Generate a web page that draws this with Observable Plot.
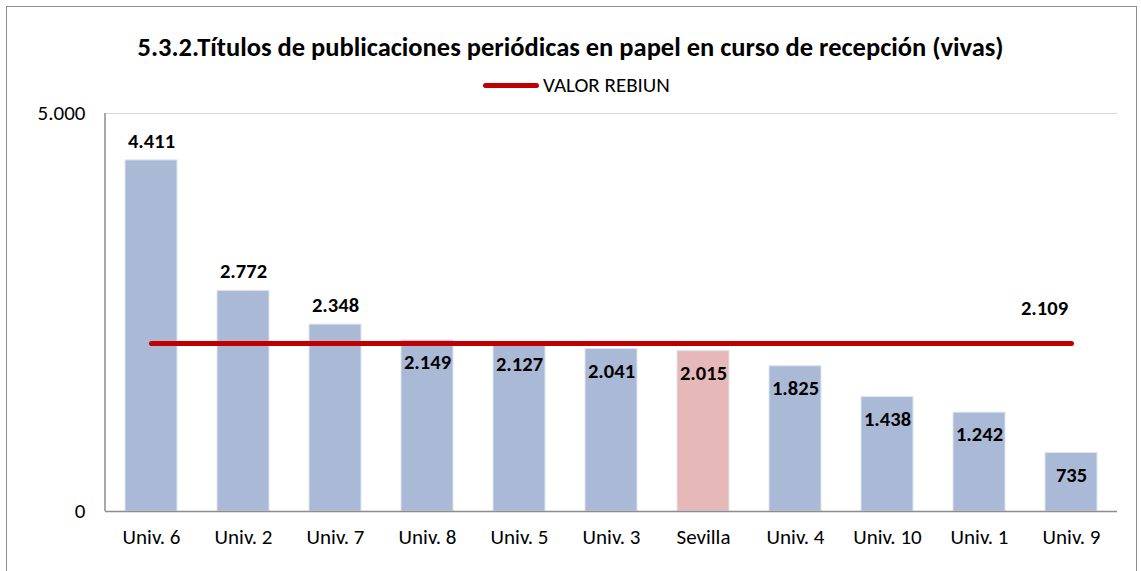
<!DOCTYPE html>
<html><head><meta charset="utf-8">
<script src="https://cdn.jsdelivr.net/npm/d3@7"></script>
<script src="https://cdn.jsdelivr.net/npm/@observablehq/plot@0.6"></script>
<style>
body{margin:0;background:#fff;font-family:Carlito,Lato,sans-serif;}
#frame{position:absolute;left:6px;top:6px;width:1131px;height:600px;border:1.5px solid #8c8c8c;box-sizing:border-box;}
#title{position:absolute;left:0;top:30px;width:1141px;text-align:center;font-weight:bold;font-size:26.5px;color:#000;line-height:34px;}
#legend{position:absolute;left:483px;top:72px;display:flex;align-items:center;font-size:21px;color:#000;line-height:26px;}
#legend .sw{width:56px;height:5px;background:#C00000;border-radius:3px;margin-right:4px;}
#chart{position:absolute;left:0;top:95px;}
</style></head>
<body>
<div id="frame"></div>
<div id="title">5.3.2.Títulos de publicaciones periódicas en papel en curso de recepción (vivas)</div>
<div id="legend"><div class="sw"></div><span>VALOR REBIUN</span></div>
<div id="chart"></div>
<script>
const categories = ["Univ. 6","Univ. 2","Univ. 7","Univ. 8","Univ. 5","Univ. 3","Sevilla","Univ. 4","Univ. 10","Univ. 1","Univ. 9"];
const values = [4411,2772,2348,2149,2127,2041,2015,1825,1438,1242,735];
const rebiun = 2109;
const yTicks = [0,5000];

const loc = d3.formatLocale({decimal:",",thousands:".",grouping:[3],currency:["","€"]});
const fmt = loc.format(",d");
const data = categories.map((c,i)=>({cat:c,value:values[i],rebiun}));
const font = "Carlito, Lato, sans-serif";

const chart = Plot.plot({
  width:1141, height:476,
  marginLeft:105, marginRight:24, marginTop:18, marginBottom:60,
  style:{fontFamily:font,fontSize:"21px",color:"#000",background:"transparent"},
  x:{domain:categories,paddingInner:0.43,paddingOuter:0.215,label:null,tickSize:0,tickPadding:18},
  y:{domain:[0,5000],ticks:yTicks,tickFormat:fmt,label:null,tickSize:0,tickPadding:20},
  marks:[
    Plot.ruleY([5000],{stroke:"#d9d9d9"}),
    Plot.barY(data,{x:"cat",y:"value",fill:d=>d.cat==="Sevilla"?"#E6B9B8":"#AAB9D6",stroke:"#dfe5f0",strokeWidth:1}),
    Plot.ruleY([0],{stroke:"#8c8c8c",strokeWidth:1.5}),
    Plot.lineY(data,{x:"cat",y:"rebiun",stroke:"#C00000",strokeWidth:5,strokeLinecap:"round"}),
    Plot.text(data.filter(d=>d.value>2300),{x:"cat",y:"value",text:d=>fmt(d.value),dy:-19,fontWeight:"bold",fontSize:20.5}),
    Plot.text(data.filter(d=>d.value<=2300),{x:"cat",y:"value",text:d=>fmt(d.value),dy:22,fontWeight:"bold",fontSize:20.5}),
    Plot.text([data[data.length-1]],{x:"cat",y:"rebiun",text:d=>fmt(d.rebiun),dy:-35,dx:-27,fontWeight:"bold",fontSize:20.5})
  ]
});
document.getElementById("chart").appendChild(chart);
const svg = d3.select(chart);
svg.append("line").attr("x1",105).attr("x2",105).attr("y1",18).attr("y2",416).attr("stroke","#8c8c8c").attr("stroke-width",1.5);
</script>
</body></html>
